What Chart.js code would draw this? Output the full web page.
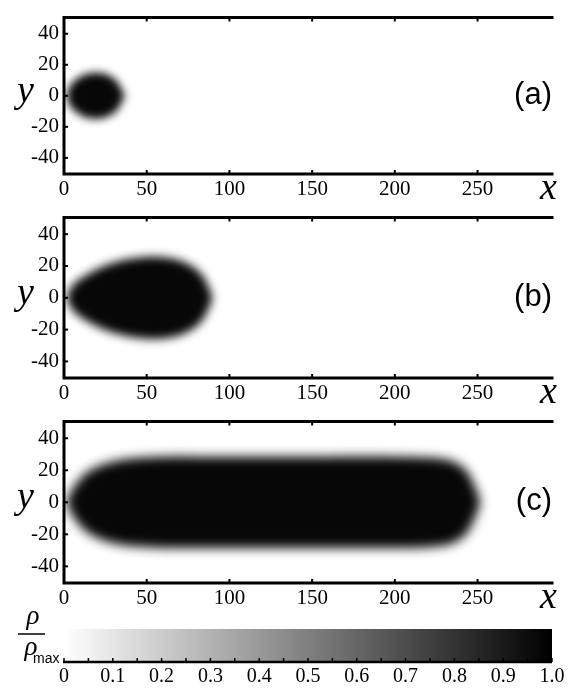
<!DOCTYPE html>
<html>
<head>
<meta charset="utf-8">
<script src="https://cdn.jsdelivr.net/npm/chart.js@4/dist/chart.umd.min.js"></script>
<style>
  body { margin: 0; background: #fff; width: 579px; height: 689px; position: relative; overflow: hidden; }
  .box { position: absolute; left: 0; width: 579px; }
  canvas { display: block; }
</style>
</head>
<body>
<div class="box" style="top:0px"><canvas id="panelA" width="579" height="210"></canvas></div>
<div class="box" style="top:200px"><canvas id="panelB" width="579" height="210"></canvas></div>
<div class="box" style="top:404px"><canvas id="panelC" width="579" height="210"></canvas></div>
<div class="box" style="top:600px"><canvas id="colorbar" width="579" height="89"></canvas></div>
<script>
// axis ticks
const xTicks = [0, 50, 100, 150, 200, 250];
const yTicks = [-40, -20, 0, 20, 40];
const colorTicks = [0, 0.1, 0.2, 0.3, 0.4, 0.5, 0.6, 0.7, 0.8, 0.9, 1.0];
const colorMinorTicks = [0.05, 0.15, 0.25, 0.35, 0.45, 0.55, 0.65, 0.75, 0.85, 0.95];
const panelLabels = ['(a)', '(b)', '(c)'];

// outline of the dense region (about rho/rho_max = 0.5): x and half width in y
const blobAX = [1.5, 4, 8, 12, 16, 20, 24, 28, 31, 33, 35, 36.5];
const blobAHalf = [0, 7, 11, 13.5, 14.6, 14.8, 14.3, 12.6, 10.4, 7.8, 3.8, 0];

const blobBX = [1.5, 5, 10, 20, 30, 40, 50, 60, 70, 78, 84, 87, 89.5];
const blobBHalf = [0, 7.5, 12, 18, 22, 24.5, 25.7, 25.5, 23.5, 19.5, 13.5, 7.5, 0];

const blobCX = [1.5, 5, 13, 22, 32, 42, 60, 80, 120, 160, 200, 220, 232, 238, 243, 247, 250, 251.5];
const blobCHalf = [0, 8, 18, 23, 26, 27.5, 28.5, 28.5, 28.5, 28.5, 28.5, 28, 26.5, 24, 20, 13, 5.5, 0];

const blurRadius = [4, 5, 5.5];

const serif = '"Liberation Serif", "Times New Roman", serif';
const sans = '"Liberation Sans", Arial, sans-serif';

// fill the outline traced by the line element, blurred for the soft edge
const blobPlugin = {
  id: 'blobPlugin',
  afterDatasetsDraw(chart) {
    const ctx = chart.ctx;
    const a = chart.chartArea;
    const line = chart.getDatasetMeta(0).dataset;
    line.updateControlPoints(a, 'x');
    ctx.save();
    ctx.beginPath();
    ctx.rect(a.left, a.top, a.right - a.left, a.bottom - a.top);
    ctx.clip();
    ctx.filter = 'blur(' + chart.options.plugins.blobPlugin.radius + 'px)';
    ctx.beginPath();
    line.path(ctx);
    ctx.closePath();
    ctx.fillStyle = '#070707';
    ctx.fill();
    ctx.restore();
  }
};

// thick frame, inward ticks, axis letters and the panel tag
const framePlugin = {
  id: 'framePlugin',
  afterDraw(chart) {
    const ctx = chart.ctx;
    const a = chart.chartArea;
    const xs = chart.scales.x, ys = chart.scales.y;
    ctx.save();
    ctx.strokeStyle = '#000';
    ctx.lineWidth = 3;
    ctx.lineCap = 'square';
    ctx.beginPath();
    ctx.moveTo(a.right, a.top); ctx.lineTo(a.left, a.top);
    ctx.lineTo(a.left, a.bottom); ctx.lineTo(a.right, a.bottom);
    ctx.stroke();
    ctx.lineWidth = 2;
    ctx.lineCap = 'butt';
    xTicks.forEach(v => {
      if (v === 0) return;
      const px = xs.getPixelForValue(v);
      ctx.beginPath();
      ctx.moveTo(px, a.top); ctx.lineTo(px, a.top + 4);
      ctx.moveTo(px, a.bottom); ctx.lineTo(px, a.bottom - 4);
      ctx.stroke();
    });
    yTicks.forEach(v => {
      const py = ys.getPixelForValue(v);
      ctx.beginPath();
      ctx.moveTo(a.left, py); ctx.lineTo(a.left + 4, py);
      ctx.stroke();
    });
    const y0 = ys.getPixelForValue(0);
    ctx.fillStyle = '#000';
    ctx.font = 'italic 38px ' + serif;
    ctx.textAlign = 'left';
    ctx.textBaseline = 'alphabetic';
    ctx.fillText('y', 17, y0 + 6);
    ctx.fillText('x', a.right - 12, a.bottom + 25);
    ctx.font = '31px ' + sans;
    ctx.textAlign = 'right';
    ctx.fillText(chart.options.plugins.framePlugin.label, a.right, y0 + 8);
    ctx.restore();
  }
};

function makePanel(id, label, xs, half, blur, topPad, axisHeight) {
  // closed outline: upper edge left to right, lower edge right to left
  const outline = xs.map((x, i) => ({ x: x, y: half[i] }))
    .concat(xs.map((x, i) => ({ x: x, y: -half[i] })).reverse().slice(1));
  return new Chart(document.getElementById(id), {
    type: 'scatter',
    data: {
      datasets: [
        { data: outline, showLine: true, fill: false,
          borderColor: 'rgba(0,0,0,0)', borderWidth: 0, pointRadius: 0, tension: 0.35 }
      ]
    },
    options: {
      responsive: false,
      animation: false,
      events: [],
      layout: { padding: { top: topPad, right: 27, left: 0, bottom: 0 } },
      plugins: {
        legend: { display: false },
        tooltip: { enabled: false },
        blobPlugin: { radius: blur },
        framePlugin: { label: label }
      },
      scales: {
        x: {
          type: 'linear', min: 0, max: 295,
          afterBuildTicks: s => { s.ticks = xTicks.map(v => ({ value: v })); },
          afterFit: s => { s.height = axisHeight; },
          grid: { display: false, drawTicks: false },
          border: { display: false },
          ticks: { autoSkip: false, maxRotation: 0, padding: 3, color: '#000', font: { family: serif, size: 21 } }
        },
        y: {
          type: 'linear', min: -50.4, max: 50.4,
          afterBuildTicks: s => { s.ticks = yTicks.map(v => ({ value: v })); },
          afterFit: s => { s.width = 64; },
          grid: { display: false, drawTicks: false },
          border: { display: false },
          ticks: { autoSkip: false, padding: 5, color: '#000', font: { family: serif, size: 21 } }
        }
      }
    },
    plugins: [blobPlugin, framePlugin]
  });
}

makePanel('panelA', panelLabels[0], blobAX, blobAHalf, blurRadius[0], 6, 36);
makePanel('panelB', panelLabels[1], blobBX, blobBHalf, blurRadius[1], 13, 32);
makePanel('panelC', panelLabels[2], blobCX, blobCHalf, blurRadius[2], 13, 31);

// colour bar
const colorbarDeco = {
  id: 'colorbarDeco',
  afterDraw(chart) {
    const ctx = chart.ctx;
    const a = chart.chartArea;
    const xs = chart.scales.x;
    ctx.save();
    ctx.strokeStyle = '#000';
    ctx.lineWidth = 2.5;
    ctx.beginPath();
    ctx.moveTo(a.left - 1, a.bottom); ctx.lineTo(a.right, a.bottom);
    ctx.stroke();
    ctx.lineWidth = 1.5;
    colorTicks.concat(colorMinorTicks).forEach(v => {
      const px = xs.getPixelForValue(v);
      ctx.beginPath();
      ctx.moveTo(px, a.bottom); ctx.lineTo(px, a.bottom - 4);
      ctx.stroke();
    });
    ctx.fillStyle = '#000';
    ctx.font = 'italic 27px ' + serif;
    ctx.textAlign = 'center';
    ctx.textBaseline = 'alphabetic';
    ctx.fillText('\u03C1', 33, 24);
    ctx.fillText('\u03C1', 31, 55);
    ctx.lineWidth = 1.5;
    ctx.beginPath();
    ctx.moveTo(18, 34); ctx.lineTo(45, 34);
    ctx.stroke();
    ctx.font = '14px ' + sans;
    ctx.textAlign = 'left';
    ctx.fillText('max', 33, 63);
    ctx.restore();
  }
};

new Chart(document.getElementById('colorbar'), {
  type: 'bar',
  data: {
    labels: ['rho'],
    datasets: [{
      data: [[colorTicks[0], colorTicks[colorTicks.length - 1]]],
      barPercentage: 1,
      categoryPercentage: 1,
      borderWidth: 0,
      backgroundColor: c => {
        const a = c.chart.chartArea;
        if (!a) return '#888';
        const g = c.chart.ctx.createLinearGradient(a.left, 0, a.right, 0);
        g.addColorStop(0, '#ffffff');
        g.addColorStop(1, '#000000');
        return g;
      }
    }]
  },
  options: {
    indexAxis: 'y',
    responsive: false,
    animation: false,
    events: [],
    layout: { padding: { top: 29, right: 27, left: 64, bottom: 0 } },
    plugins: { legend: { display: false }, tooltip: { enabled: false } },
    scales: {
      x: {
        type: 'linear', min: 0, max: 1,
        afterBuildTicks: s => { s.ticks = colorTicks.map(v => ({ value: v })); },
        afterFit: s => { s.height = 27; },
        grid: { display: false, drawTicks: false },
        border: { display: false },
        ticks: {
          autoSkip: false, maxRotation: 0, padding: 3, color: '#000',
          font: { family: serif, size: 20 },
          callback: v => (v === 0 ? '0' : v.toFixed(1))
        }
      },
      y: { display: false }
    }
  },
  plugins: [colorbarDeco]
});
</script>
</body>
</html>
